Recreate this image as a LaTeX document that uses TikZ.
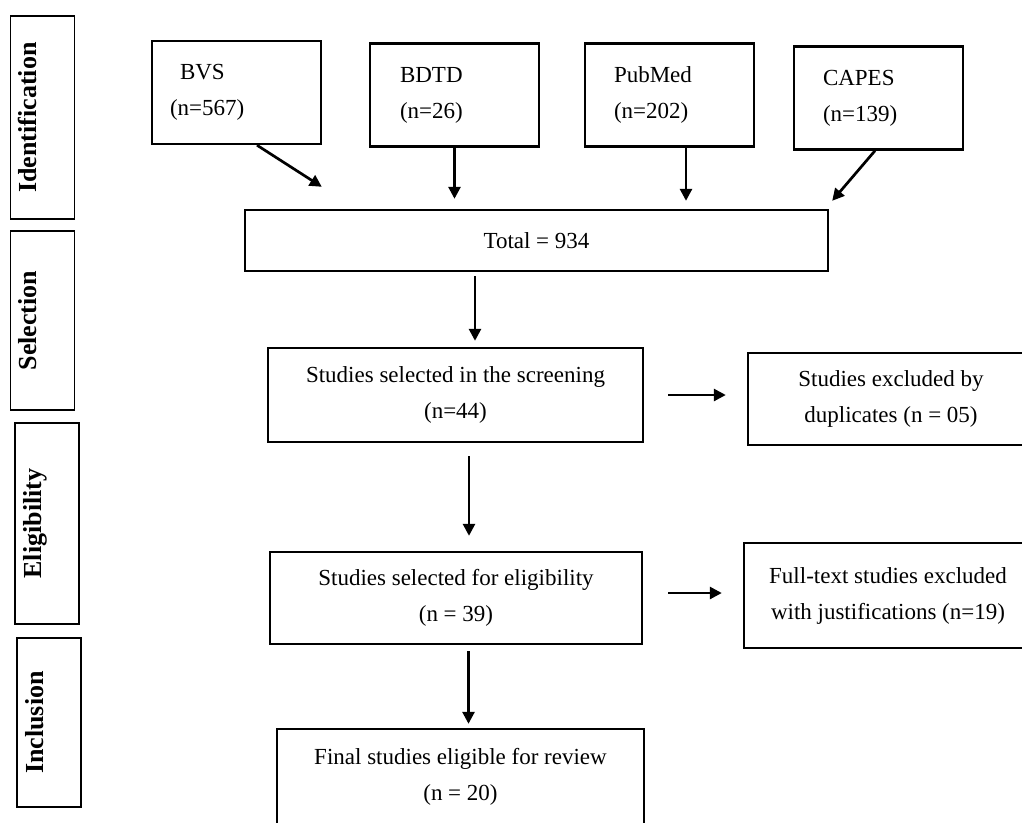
\documentclass[tikz,border=0pt]{standalone}
\usepackage{fontspec}
\setmainfont{Liberation Serif}
\usetikzlibrary{arrows.meta,calc}

\tikzset{
    box/.style={draw, line width=2.4pt, rectangle, inner sep=0pt, align=center, font=\fontsize{23}{36}\selectfont},
    src/.style={box, align=left, minimum height=103pt},
    stage/.style={draw, line width=1.4pt, rotate=90, inner xsep=0pt, minimum height=64pt, font=\fontsize{26}{30}\selectfont\bfseries, text height=14pt, text depth=26pt},
    arr/.style={-{Triangle[length=12pt,width=12pt]}, line width=2.7pt},
}

\begin{document}
\begin{tikzpicture}[x=1pt, y=-1pt]

    \useasboundingbox (0,0) rectangle (1022,822);
    \clip (0,0) rectangle (1022,822);

    % stages on the left
    \node[stage, minimum width=203pt] (ident) at (42.5,117.5) {Identification};
    \node[stage, minimum width=179pt] (selec) at (42.5,320.5) {Selection};
    \node[stage, minimum width=201pt] (eligi) at (47,523.5) {Eligibility};
    \node[stage, minimum width=169pt] (inclu) at (49,722.5) {Inclusion};

    % data bases
    \node[src, inner xsep=18pt, text width=133pt] (bvs) at (236.5,92.5) {\hspace*{10pt}BVS\\(n=567)};
    \node[src, inner xsep=30pt, text width=109pt] (bdtd) at (454.5,95) {BDTD\\(n=26)};
    \node[src, inner xsep=29pt, text width=111pt] (pubmed) at (669.5,95) {PubMed\\(n=202)};
    \node[src, inner xsep=29pt, text width=111pt] (capes) at (878.5,98) {CAPES\\(n=139)};

    \node[box, minimum width=583pt, minimum height=61pt] (total) at (536.5,240.5) {Total = 934};

    \draw[arr] ([xshift=20.5pt]bvs.south) -- ([xshift=78pt,yshift=22pt]total.north west);
    \draw[arr, shorten >=10pt] (bdtd.south) -- (bdtd.south |- total.north);
    \draw[arr, shorten >=8pt] ([xshift=16.5pt]pubmed.south) -- ([xshift=16.5pt]pubmed.south |- total.north);
    \draw[arr] ([xshift=-3.5pt]capes.south) -- ([xshift=3pt,yshift=8pt]total.north east);

    % screening and eligibility
    \node[box, minimum width=375pt, minimum height=94pt] (screen) at (455.5,395) {Studies selected in the screening\\(n=44)};
    \node[box, minimum width=286pt, minimum height=92pt] (dupl) at (891,399) {Studies excluded by\\duplicates (n = 05)};
    \node[box, minimum width=372pt, minimum height=92pt] (elig) at (456,598) {Studies selected for eligibility\\(n = 39)};
    \node[box, minimum width=288pt, minimum height=105pt] (fulltext) at (888,595.5) {Full-text studies excluded\\with justifications (n=19)};
    \node[box, minimum width=367pt, minimum height=95pt] (final) at (460.5,776.5) {Final studies eligible for review\\(n = 20)};

    \draw[arr, shorten <=4pt, shorten >=6pt] ([xshift=19.5pt]screen.north |- total.south) -- ([xshift=19.5pt]screen.north);
    \draw[arr, shorten <=24pt, shorten >=21pt] (screen.east) -- (screen.east -| dupl.west);
    \draw[arr, shorten <=13pt, shorten >=15pt] ([xshift=13pt]elig.north |- screen.south) -- ([xshift=13pt]elig.north);
    \draw[arr, shorten <=25pt, shorten >=21pt] ([yshift=5pt]elig.east) -- ([yshift=5pt]elig.east -| fulltext.west);
    \draw[arr, shorten <=6pt, shorten >=4pt] ([xshift=8pt]final.north |- elig.south) -- ([xshift=8pt]final.north);

\end{tikzpicture}
\end{document}
